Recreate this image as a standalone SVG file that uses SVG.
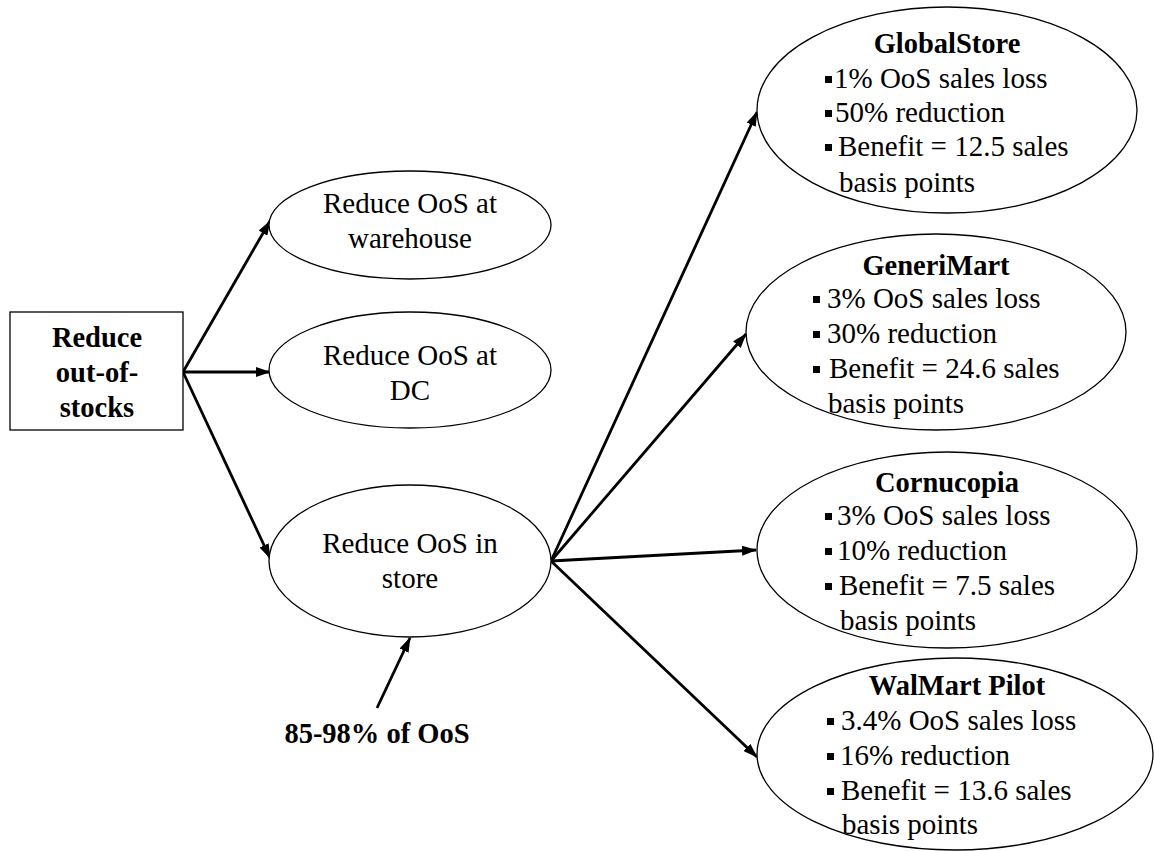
<svg xmlns="http://www.w3.org/2000/svg" width="1154" height="851" viewBox="0 0 1154 851">
  <style>
    .node { fill: #ffffff; stroke: #000000; stroke-width: 1.3; }
    .txt { font-family: "Liberation Serif", "Times New Roman", serif; font-size: 29px; fill: #000000; }
    .mid { text-anchor: middle; }
    .bold { font-weight: bold; font-size: 28.5px; }
    .bul { fill: #000000; }
    .link { stroke: #000000; stroke-width: 2.8; fill: none; marker-end: url(#head); }
  </style>
  <defs>
    <marker id="head" markerUnits="userSpaceOnUse" markerWidth="15" markerHeight="10" refX="14" refY="5" orient="auto">
      <path d="M0,0 L15,5 L0,10 z" fill="#000000"/>
    </marker>
  </defs>

  <rect width="1154" height="851" fill="#ffffff"/>

  <!-- connectors -->
  <g id="connectors">
    <line class="link" x1="183" y1="372" x2="270" y2="221"/>
    <line class="link" x1="183" y1="372" x2="270" y2="372"/>
    <line class="link" x1="183" y1="372" x2="270" y2="558"/>
    <line class="link" x1="551" y1="561" x2="757" y2="112"/>
    <line class="link" x1="551" y1="561" x2="746" y2="334"/>
    <line class="link" x1="551" y1="561" x2="756" y2="550"/>
    <line class="link" x1="551" y1="561" x2="757" y2="757"/>
    <line class="link" x1="377" y1="708" x2="410" y2="638"/>
  </g>

  <!-- root -->
  <g id="reduce-oos">
    <rect class="node" x="10" y="312" width="173" height="118"/>
    <text class="txt bold mid" x="97" y="347">Reduce</text>
    <text class="txt bold mid" x="97" y="382">out-of-</text>
    <text class="txt bold mid" x="97" y="417">stocks</text>
  </g>

  <g id="warehouse">
    <ellipse class="node" cx="410" cy="225" rx="141" ry="54"/>
    <text class="txt mid" x="410" y="213">Reduce OoS at</text>
    <text class="txt mid" x="410" y="248">warehouse</text>
  </g>

  <g id="dc">
    <ellipse class="node" cx="410" cy="370" rx="141" ry="58"/>
    <text class="txt mid" x="410" y="365">Reduce OoS at</text>
    <text class="txt mid" x="410" y="400">DC</text>
  </g>

  <g id="store">
    <ellipse class="node" cx="410" cy="561" rx="141" ry="76"/>
    <text class="txt mid" x="410" y="553">Reduce OoS in</text>
    <text class="txt mid" x="410" y="588">store</text>
  </g>

  <g id="share-label">
    <text class="txt bold mid" x="377" y="743">85-98% of OoS</text>
  </g>

  <g id="globalstore">
    <ellipse class="node" cx="947" cy="110" rx="190" ry="103"/>
    <text class="txt bold mid" x="947" y="53">GlobalStore</text>
    <rect class="bul" x="825" y="76" width="7" height="7"/>
    <text class="txt" x="834" y="88">1% OoS sales loss</text>
    <rect class="bul" x="825" y="110" width="7" height="7"/>
    <text class="txt" x="835" y="122">50% reduction</text>
    <rect class="bul" x="825" y="144" width="7" height="7"/>
    <text class="txt" x="838" y="156">Benefit = 12.5 sales</text>
    <text class="txt" x="839" y="192">basis points</text>
  </g>

  <g id="generimart">
    <ellipse class="node" cx="936" cy="332" rx="190" ry="98"/>
    <text class="txt bold mid" x="936" y="275">GeneriMart</text>
    <rect class="bul" x="813" y="296" width="7" height="7"/>
    <text class="txt" x="827" y="308">3% OoS sales loss</text>
    <rect class="bul" x="813" y="331" width="7" height="7"/>
    <text class="txt" x="827" y="343">30% reduction</text>
    <rect class="bul" x="813" y="366" width="7" height="7"/>
    <text class="txt" x="829" y="378">Benefit = 24.6 sales</text>
    <text class="txt" x="828" y="413">basis points</text>
  </g>

  <g id="cornucopia">
    <ellipse class="node" cx="947" cy="550" rx="190" ry="98"/>
    <text class="txt bold mid" x="947" y="492">Cornucopia</text>
    <rect class="bul" x="825" y="513" width="7" height="7"/>
    <text class="txt" x="837" y="525">3% OoS sales loss</text>
    <rect class="bul" x="825" y="548" width="7" height="7"/>
    <text class="txt" x="837" y="560">10% reduction</text>
    <rect class="bul" x="825" y="583" width="7" height="7"/>
    <text class="txt" x="839" y="595">Benefit = 7.5 sales</text>
    <text class="txt" x="840" y="630">basis points</text>
  </g>

  <g id="walmart-pilot">
    <ellipse class="node" cx="955" cy="754" rx="198" ry="96"/>
    <text class="txt bold mid" x="957" y="695">WalMart Pilot</text>
    <rect class="bul" x="827" y="718" width="7" height="7"/>
    <text class="txt" x="841" y="730">3.4% OoS sales loss</text>
    <rect class="bul" x="827" y="753" width="7" height="7"/>
    <text class="txt" x="840" y="765">16% reduction</text>
    <rect class="bul" x="827" y="788" width="7" height="7"/>
    <text class="txt" x="841" y="800">Benefit = 13.6 sales</text>
    <text class="txt" x="842" y="834">basis points</text>
  </g>
</svg>
